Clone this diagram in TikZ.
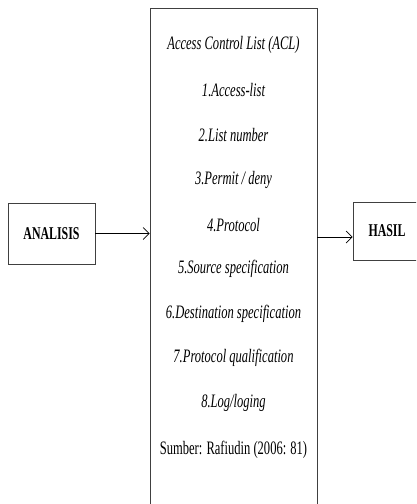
\documentclass[tikz,border=0pt]{standalone}
\usepackage{fontspec}
\setmainfont{Liberation Serif}[FakeStretch=0.66]
\usetikzlibrary{arrows.meta}

\tikzset{
  block/.style={draw=black!75, line width=0.7pt},
  blocktext/.style={font=\fontsize{18}{21}\selectfont\bfseries},
  itemtext/.style={font=\fontsize{19}{22}\selectfont\itshape},
  srctext/.style={font=\fontsize{19}{22}\selectfont},
}

\begin{document}
\begin{tikzpicture}[x=1pt, y=-1pt, >={Straight Barb[length=6pt, width=12pt]}]
                    \useasboundingbox (0,0) rectangle (416,504);
                    \clip (0,0) rectangle (416,504);
                    % Nodes
                    \node[block, blocktext, minimum width=87pt, minimum height=61pt] (analisis) at (51.5,233.5) {ANALISIS};
                    \node[block, minimum width=167pt, minimum height=520pt] (acl) at (233.5,268) {};
                    \node[block, blocktext, minimum width=68pt, minimum height=58pt] (hasil) at (387,231) {HASIL};
                    \node[itemtext] (title) at (233.5,45) {Access Control List (ACL)};
                    \node[itemtext] (item1) at (233.5,90) {1.Access-list};
                    \node[itemtext] (item2) at (233.5,135) {2.List number};
                    \node[itemtext] (item3) at (233.5,180) {3.Permit / deny};
                    \node[itemtext] (item4) at (233.5,225) {4.Protocol};
                    \node[itemtext] (item5) at (233.5,269) {5.Source specification};
                    \node[itemtext] (item6) at (233.5,314) {6.Destination specification};
                    \node[itemtext] (item7) at (233.5,358) {7.Protocol qualification};
                    \node[itemtext] (item8) at (233.5,403) {8.Log/loging};
                    \node[srctext] (source) at (233.5,450) {Sumber: Rafiudin (2006: 81)};
                    \coordinate (hasilin) at ([yshift=-6pt]hasil.west);
                    % Edges
                    \draw[->, line width=0.7pt] (analisis.east) -- (analisis.east -| acl.west);
                    \draw[->, line width=0.7pt] (hasilin -| acl.east) -- (hasilin);
                \end{tikzpicture}
\end{document}
